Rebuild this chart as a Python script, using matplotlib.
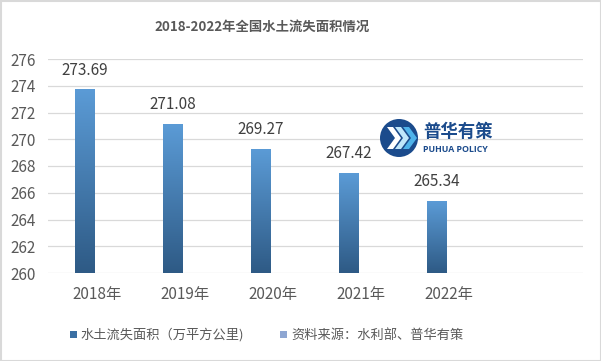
import matplotlib
matplotlib.use("Agg")
import matplotlib.pyplot as plt
import numpy as np
from matplotlib.patches import Rectangle, Ellipse, Polygon
from matplotlib.colors import LinearSegmentedColormap

plt.rcParams['font.family'] = ['Noto Sans CJK SC', 'DejaVu Sans']

title = "2018-2022年全国水土流失面积情况"
categories = ["2018年", "2019年", "2020年", "2021年", "2022年"]
values = [273.69, 271.08, 269.27, 267.42, 265.34]
yticks = [260, 262, 264, 266, 268, 270, 272, 274, 276]
legend_labels = ["水土流失面积（万平方公里)", "资料来源：水利部、普华有策"]

W, H = 601, 361
fig = plt.figure(figsize=(W / 100, H / 100), dpi=100)
fig.patch.set_facecolor("white")

# axes placement in pixels
L, R, T, B = 48, 583, 59, 273
ax = fig.add_axes([L / W, 1 - B / H, (R - L) / W, (B - T) / H])
ax.set_facecolor("white")

x = np.arange(len(categories))
offset = -0.136
bw = 0.227
bars = ax.bar(x + offset, np.array(values) - 260, bottom=260, width=bw,
              facecolor="none", edgecolor="none", zorder=3)

cmap = LinearSegmentedColormap.from_list("g", ["#2e5a85", "#5b9bd6"])
grad = np.linspace(0, 1, 256).reshape(-1, 1)
for p, v in zip(bars.patches, values):
    x0, y0 = p.get_x(), p.get_y()
    w, h = p.get_width(), p.get_height()
    ax.imshow(grad, cmap=cmap, origin="lower", aspect="auto",
              extent=[x0, x0 + w, y0, y0 + h], zorder=3)
    ax.text(x0 + w / 2, y0 + h + 0.85, f"{v:.2f}",
            ha="center", va="bottom", fontsize=11, color="#404040", zorder=4)

ax.set_xlim(-0.557, 5.52)
ax.set_ylim(260, 276)
ax.set_yticks(yticks)
ax.set_yticklabels([str(v) for v in yticks], fontsize=11, color="#595959")
ax.set_xticks(x)
ax.set_xticklabels(categories, fontsize=11, color="#595959")
ax.tick_params(axis="both", length=0)
ax.tick_params(axis="y", pad=9)
ax.tick_params(axis="x", pad=9)
ax.yaxis.grid(True, color="#d9d9d9", linewidth=0.9, zorder=0)
ax.set_axisbelow(True)
for s in ax.spines.values():
    s.set_visible(False)

# title
fig.text(262 / W, 1 - 27 / H, title, ha="center", va="center",
         fontsize=9.6, fontweight="bold", color="#595959")

# legend
def px_rect(x0, y0, w, h, color):
    fig.patches.append(Rectangle((x0 / W, 1 - (y0 + h) / H), w / W, h / H,
                                 transform=fig.transFigure, facecolor=color,
                                 edgecolor="none"))

px_rect(70, 331, 7, 7, "#3a6fa3")
fig.text(80 / W, 1 - 335 / H, legend_labels[0], ha="left", va="center",
         fontsize=9.5, color="#595959")
px_rect(280, 331, 7, 7, "#8ea6d2")
fig.text(291 / W, 1 - 335 / H, legend_labels[1], ha="left", va="center",
         fontsize=9.5, color="#595959")

# logo
cx, cy, r = 399, 138, 19
fig.patches.append(Ellipse((cx / W, 1 - cy / H), 2 * r / W, 2 * r / H,
                           transform=fig.transFigure, facecolor="#1b4b8c",
                           edgecolor="none"))
for i, dx in enumerate([-12, -4, 4]):
    pts = [(cx + dx, cy - 11), (cx + dx + 6, cy - 11), (cx + dx + 14, cy),
           (cx + dx + 6, cy + 11), (cx + dx, cy + 11), (cx + dx + 8, cy)]
    col = ["#ffffff", "#bfe6fa", "#4fb3ea"][i]
    fig.patches.append(Polygon([(px / W, 1 - py / H) for px, py in pts],
                               closed=True, transform=fig.transFigure,
                               facecolor=col, edgecolor="none"))
fig.text(423 / W, 1 - 132 / H, "普华有策", ha="left", va="center",
         fontsize=12.5, fontweight="bold", color="#1b4b8c")
fig.text(423 / W, 1 - 149 / H, "PUHUA POLICY", ha="left", va="center",
         fontsize=6.3, fontweight="bold", color="#1b4b8c",
         family=["Open Sans", "DejaVu Sans"])

# outer frame
fig.patches.append(Rectangle((0.5 / W, 0.5 / H), (W - 1) / W, (H - 1) / H,
                             transform=fig.transFigure, facecolor="none",
                             edgecolor="#d9d9d9", linewidth=1.5))

fig.savefig("out.png", dpi=100)
